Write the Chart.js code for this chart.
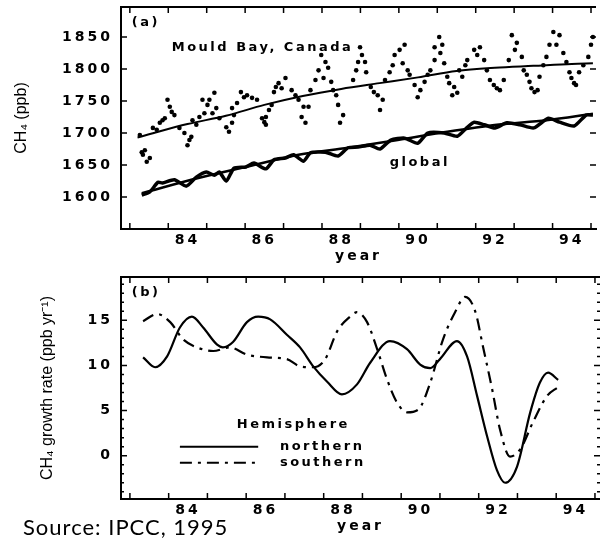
<!DOCTYPE html>
<html lang="en">
<head>
<meta charset="UTF-8">
<title>CH4 concentration and growth rate</title>
<script src="https://cdn.jsdelivr.net/npm/chart.js"></script>
<style>
  html, body { margin: 0; padding: 0; background: #fff; }
  canvas { display: block; }
</style>
</head>
<body>
<canvas id="concChart" width="600" height="270"></canvas>
<canvas id="rateChart" width="600" height="270"></canvas>
<script>
// axis labels and tick marks
const yearLabels = [84, 86, 88, 90, 92, 94];
const yearMarks = [82.5, 83.5, 84.5, 85.5, 86.5, 87.5, 88.5, 89.5, 90.5, 91.5, 92.5, 93.5, 94.5];
const ch4Ticks = [1600, 1650, 1700, 1750, 1800, 1850];
const rateTicks = [0, 5, 10, 15];
const rateMinor = [-4, -3, -2, -1, 1, 2, 3, 4, 6, 7, 8, 9, 11, 12, 13, 14, 16, 17, 18, 19];

// (a) Mould Bay, Canada flask samples (ppb)
const mbYear = [82.76, 82.84, 82.89, 82.94, 83.02, 83.10, 83.28, 83.41, 83.48, 83.54,
  83.59, 83.66, 83.92, 84.00, 84.10, 84.13, 84.31, 84.39, 84.44, 84.52,
  84.65, 84.70, 84.75, 85.01, 85.08, 85.16, 85.16, 85.29, 85.39, 85.55,
  85.68, 85.94, 86.04, 86.04, 86.19, 86.25, 86.30, 86.37, 86.55, 86.71,
  86.89, 86.97, 87.02, 87.07, 87.15, 87.20, 87.41, 87.48, 87.54, 87.66,
  87.74, 87.87, 87.92, 87.97, 88.31, 88.44, 88.49, 88.62, 88.65, 88.77,
  88.95, 89.01, 89.14, 89.34, 89.39, 89.60, 89.65, 89.78, 89.91, 89.99,
  90.17, 90.32, 90.43, 90.43, 90.55, 90.58, 90.68, 90.76, 90.94, 91.02,
  91.15, 91.28, 91.46, 91.61, 91.72, 91.87, 92.05, 92.23, 92.44, 92.57,
  92.70, 92.75, 92.90, 93.03, 93.16, 93.34, 93.52, 93.68, 93.78, 93.94,
  94.06, 94.19, 94.43, 94.55,
  90.63, 90.81, 90.89, 91.07, 91.23, 91.54, 91.79, 91.97, 92.13, 92.36,
  92.52, 92.83, 92.95, 93.11, 93.26, 93.42, 93.60, 93.86, 93.99, 94.11,
  94.30, 94.50, 86.45, 86.81, 87.33, 87.59, 87.79, 88.05, 88.39, 88.54,
  88.85, 89.08, 89.26, 89.52, 89.73, 90.06, 90.25, 82.81, 83.20, 83.35,
  83.79, 84.05, 84.23, 84.57, 84.83, 85.21, 85.47, 85.81, 86.00, 86.12];
const mbCH4 = [1697, 1666, 1673, 1655, 1661, 1708, 1716, 1723, 1752, 1741,
  1733, 1728, 1700, 1681, 1694, 1720, 1725, 1752, 1731, 1744,
  1731, 1763, 1739, 1709, 1702, 1716, 1739, 1747, 1764, 1759,
  1755, 1723, 1725, 1713, 1744, 1764, 1772, 1778, 1786, 1767,
  1752, 1725, 1741, 1716, 1741, 1767, 1798, 1822, 1786, 1802,
  1780, 1759, 1744, 1716, 1783, 1811, 1834, 1811, 1795, 1772,
  1759, 1736, 1783, 1806, 1822, 1809, 1838, 1791, 1775, 1756,
  1780, 1798, 1814, 1834, 1850, 1825, 1809, 1788, 1772, 1763,
  1788, 1814, 1830, 1834, 1814, 1783, 1770, 1783, 1853, 1841,
  1819, 1798, 1780, 1764, 1788, 1819, 1858, 1853, 1825, 1795,
  1778, 1795, 1819, 1850,
  1838, 1778, 1759, 1798, 1806, 1822, 1798, 1775, 1767, 1814,
  1830, 1791, 1770, 1767, 1806, 1838, 1838, 1811, 1786, 1775,
  1806, 1838, 1770, 1759, 1783, 1811, 1767, 1728, 1798, 1822,
  1764, 1752, 1795, 1830, 1798, 1767, 1791, 1670, 1705, 1720,
  1708, 1689, 1713, 1752, 1723, 1728, 1756, 1752, 1717, 1736];
const mbTrendYear = [82.7, 83, 84, 85, 86, 87, 88, 89, 90, 91, 92, 93, 94, 94.55];
const mbTrendCH4 = [1693, 1698, 1714, 1727, 1744, 1758, 1769, 1778, 1787, 1797, 1802, 1805, 1808, 1809];

// global mean
const glYear = [82.81, 83.02, 83.23, 83.35, 83.66, 83.97, 84.23, 84.49, 84.70, 84.83,
  85.01, 85.21, 85.52, 85.73, 86.04, 86.25, 86.55, 86.76, 87.02, 87.20,
  87.59, 87.92, 88.18, 88.44, 88.75, 89.01, 89.29, 89.65, 89.99, 90.25,
  90.68, 91.02, 91.28, 91.46, 91.72, 92.00, 92.31, 92.65, 93.01, 93.39,
  93.68, 94.06, 94.37, 94.55];
const glCH4 = [1603, 1608, 1623, 1622, 1627, 1617, 1631, 1639, 1634, 1639,
  1625, 1645, 1647, 1653, 1644, 1658, 1661, 1666, 1656, 1669,
  1670, 1664, 1677, 1678, 1681, 1675, 1689, 1692, 1684, 1700,
  1700, 1695, 1709, 1717, 1713, 1708, 1716, 1713, 1708, 1723,
  1717, 1711, 1728, 1728];
const glTrendYear = [82.81, 84.31, 85.60, 86.89, 88.18, 89.47, 90.76, 92.05, 93.34, 94.55];
const glTrendCH4 = [1606, 1630, 1648, 1666, 1677, 1689, 1702, 1713, 1720, 1730];

// (b) growth rate by hemisphere (ppb/yr)
const northYear = [82.84, 83.15, 83.46, 83.79, 84.10, 84.39, 84.75, 84.90, 85.16, 85.52,
  85.81, 86.12, 86.55, 86.89, 87.23, 87.59, 87.97, 88.36, 88.70, 89.21,
  89.65, 89.99, 90.25, 90.50, 90.94, 91.20, 91.46, 91.72, 91.97, 92.18,
  92.49, 92.83, 93.08, 93.29, 93.55];
const northRate = [10.9, 9.8, 11.0, 14.2, 15.4, 14.2, 12.3, 12.0, 12.6, 14.8,
  15.4, 15.1, 13.4, 12.0, 9.9, 8.2, 6.8, 7.9, 10.3, 12.7,
  11.8, 10.1, 9.7, 10.7, 12.7, 11.0, 6.6, 2.1, -1.6, -3.0,
  -1.2, 4.8, 8.1, 9.2, 8.4];
const southYear = [82.84, 83.20, 83.54, 83.87, 84.23, 84.65, 85.08, 85.52, 86.04, 86.55,
  86.89, 87.23, 87.54, 87.85, 88.18, 88.36, 88.62, 88.88, 89.14, 89.39,
  89.65, 89.94, 90.25, 90.58, 90.89, 91.15, 91.41, 91.61, 91.85, 92.05,
  92.31, 92.57, 92.90, 93.26, 93.55];
const southRate = [14.9, 15.7, 14.8, 12.9, 12.0, 11.6, 12.0, 11.2, 10.9, 10.7,
  9.9, 9.8, 10.7, 13.8, 15.4, 15.9, 14.8, 11.8, 8.4, 5.9,
  4.8, 5.1, 8.1, 12.9, 15.9, 17.6, 16.0, 12.1, 7.3, 2.9,
  -0.1, 0.7, 3.7, 6.6, 7.6];

const southDash = [12, 6, 3, 6];
const pts = (xs, ys) => xs.map((x, i) => ({ x: x, y: ys[i] }));

const tickFont = { family: 'DejaVu Sans', weight: 'bold', size: 14 };
const noteFont = 'bold 13px "DejaVu Sans"';

// frame, inward ticks, rotated y title and text notes
const framePlugin = {
  id: 'frame',
  beforeDraw(chart) {
    chart.ctx.letterSpacing = '3px';
  },
  afterDraw(chart, args, opts) {
    const ctx = chart.ctx;
    const a = chart.chartArea;
    const xs = chart.scales.x, ys = chart.scales.y;
    ctx.save();
    ctx.strokeStyle = '#000';
    ctx.lineWidth = 2;
    ctx.beginPath();
    ctx.moveTo(a.left - 1, a.top);
    ctx.lineTo(a.right, a.top);
    ctx.stroke();

    ctx.lineWidth = 1.5;
    ctx.beginPath();
    yearMarks.forEach(v => {
      const px = xs.getPixelForValue(v);
      ctx.moveTo(px, a.bottom); ctx.lineTo(px, a.bottom - 6);
      ctx.moveTo(px, a.top); ctx.lineTo(px, a.top + 6);
    });
    opts.majorY.forEach(v => {
      const py = ys.getPixelForValue(v);
      ctx.moveTo(a.left, py); ctx.lineTo(a.left + 6, py);
      ctx.moveTo(a.right, py); ctx.lineTo(a.right - 6, py);
    });
    (opts.minorY || []).forEach(v => {
      const py = ys.getPixelForValue(v);
      ctx.moveTo(a.left, py); ctx.lineTo(a.left + 3, py);
      ctx.moveTo(a.right, py); ctx.lineTo(a.right - 3, py);
    });
    ctx.stroke();

    // legend samples
    (opts.samples || []).forEach(s => {
      ctx.lineWidth = 2;
      ctx.setLineDash(s.dash);
      ctx.beginPath();
      ctx.moveTo(xs.getPixelForValue(s.x0), ys.getPixelForValue(s.y));
      ctx.lineTo(xs.getPixelForValue(s.x1), ys.getPixelForValue(s.y));
      ctx.stroke();
    });
    ctx.setLineDash([]);

    ctx.fillStyle = '#000';
    ctx.letterSpacing = '2.5px';
    ctx.font = noteFont;
    ctx.textAlign = 'left';
    ctx.textBaseline = 'middle';
    opts.notes.forEach(n => {
      ctx.fillText(n.text, xs.getPixelForValue(n.x), ys.getPixelForValue(n.y));
    });

    ctx.letterSpacing = '0px';
    ctx.font = '16px "Liberation Sans"';
    ctx.textAlign = 'center';
    ctx.translate(opts.titleX, (a.top + a.bottom) / 2);
    ctx.rotate(-Math.PI / 2);
    ctx.fillText(opts.yTitle, 0, 0);
    ctx.restore();

    ctx.letterSpacing = '0px';
    if (opts.source) {
      ctx.save();
      ctx.letterSpacing = '1px';
      ctx.fillStyle = '#000';
      ctx.font = '22px Lato';
      ctx.textAlign = 'left';
      ctx.textBaseline = 'middle';
      ctx.fillText(opts.source, 23, 258);
      ctx.restore();
      ctx.letterSpacing = '0px';
    }
  }
};

function xAxis() {
  return {
    type: 'linear',
    min: 82.27,
    max: 94.63,
    afterFit: s => { s.height = 41; s.paddingLeft = 0; s.paddingRight = 0; },
    afterBuildTicks: s => { s.ticks = yearLabels.map(v => ({ value: v })); },
    grid: { display: false, drawTicks: false },
    border: { display: true, color: '#000', width: 2 },
    ticks: { color: '#000', font: tickFont, padding: 3, maxRotation: 0, autoSkip: false,
      callback: v => String(v) },
    title: { display: true, text: 'year', color: '#000', font: tickFont, padding: { top: 0, bottom: 5 } }
  };
}

function yAxis(min, max, values) {
  return {
    type: 'linear',
    min: min,
    max: max,
    afterFit: s => { s.width = 121; s.paddingTop = 0; s.paddingBottom = 0; },
    afterBuildTicks: s => { s.ticks = values.map(v => ({ value: v })); },
    grid: { display: false, drawTicks: false },
    border: { display: true, color: '#000', width: 2 },
    ticks: { color: '#000', font: tickFont, padding: 8, autoSkip: false,
      callback: v => String(v) }
  };
}

const common = {
  responsive: false,
  animation: false,
  layout: { padding: { top: 7, left: 0, right: 0, bottom: 0 } },
  elements: { point: { radius: 0 } }
};

new Chart(document.getElementById('concChart'), {
  type: 'line',
  data: {
    datasets: [
      { label: 'Mould Bay, Canada', data: pts(mbYear, mbCH4), showLine: false,
        pointRadius: 2.3, pointBackgroundColor: '#000', pointBorderWidth: 0 },
      { label: 'Mould Bay trend', data: pts(mbTrendYear, mbTrendCH4), borderColor: '#000',
        borderWidth: 2, cubicInterpolationMode: 'monotone' },
      { label: 'global', data: pts(glYear, glCH4), borderColor: '#000', borderWidth: 3.5,
        tension: 0.2 },
      { label: 'global trend', data: pts(glTrendYear, glTrendCH4), borderColor: '#000',
        borderWidth: 2.5, cubicInterpolationMode: 'monotone' }
    ]
  },
  options: Object.assign({}, common, {
    scales: { x: xAxis(), y: yAxis(1550, 1897, ch4Ticks) },
    plugins: {
      legend: { display: false },
      tooltip: { enabled: false },
      frame: {
        majorY: ch4Ticks,
        yTitle: 'CH\u2084 (ppb)',
        titleX: 22,
        notes: [
          { text: '(a)', x: 82.55, y: 1873 },
          { text: 'Mould Bay, Canada', x: 83.59, y: 1834 },
          { text: 'global', x: 89.26, y: 1653 }
        ]
      }
    }
  }),
  plugins: [framePlugin]
});

new Chart(document.getElementById('rateChart'), {
  type: 'line',
  data: {
    datasets: [
      { label: 'northern', data: pts(northYear, northRate), borderColor: '#000',
        borderWidth: 2.2, cubicInterpolationMode: 'monotone' },
      { label: 'southern', data: pts(southYear, southRate), borderColor: '#000',
        borderWidth: 2.2, borderDash: southDash, cubicInterpolationMode: 'monotone' }
    ]
  },
  options: Object.assign({}, common, {
    scales: { x: xAxis(), y: yAxis(-4.8, 19.8, rateTicks) },
    plugins: {
      legend: { display: false },
      tooltip: { enabled: false },
      frame: {
        majorY: rateTicks,
        minorY: rateMinor,
        yTitle: 'CH\u2084 growth rate (ppb yr\u207B\u00B9)',
        titleX: 48,
        source: 'Source: IPCC, 1995',
        notes: [
          { text: '(b)', x: 82.55, y: 18.1 },
          { text: 'Hemisphere', x: 85.26, y: 3.4 },
          { text: 'northern', x: 86.37, y: 1.0 },
          { text: 'southern', x: 86.37, y: -0.78 }
        ],
        samples: [
          { x0: 83.79, x1: 85.81, y: 1.0, dash: [] },
          { x0: 83.79, x1: 85.76, y: -0.78, dash: southDash }
        ]
      }
    }
  }),
  plugins: [framePlugin]
});
</script>
</body>
</html>
